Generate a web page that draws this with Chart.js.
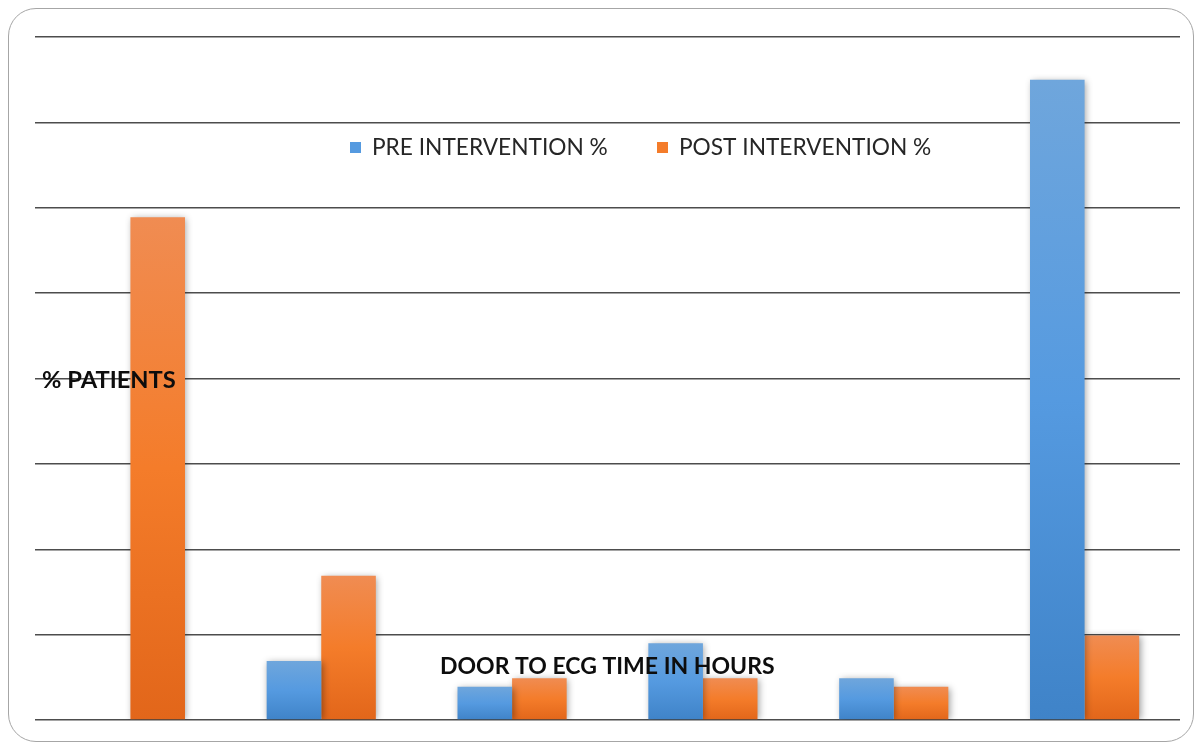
<!DOCTYPE html>
<html>
<head>
<meta charset="utf-8">
<script src="https://cdn.jsdelivr.net/npm/chart.js@4.4.1/dist/chart.umd.min.js"></script>
<style>
  html, body { margin: 0; padding: 0; background: #ffffff; }
  #wrap { position: relative; width: 1202px; height: 746px; }
  #frame {
    position: absolute; left: 8px; top: 8px; width: 1186px; height: 734px;
    border: 1.5px solid #a6a6a6; border-radius: 28px; box-sizing: border-box;
  }
  canvas { position: absolute; left: 0; top: 0; }
</style>
</head>
<body>
<div id="wrap">
  <div id="frame"></div>
  <canvas id="chart" width="1202" height="746"></canvas>
</div>
<script>
// Door-to-ECG time bands (not labelled on the axis)
const categories = ['1', '2', '3', '4', '5', '6'];
const seriesNames = ['PRE INTERVENTION %', 'POST INTERVENTION %'];
const preValues = [0, 6.9, 3.9, 9.0, 4.9, 75.0];
const postValues = [58.9, 16.9, 4.9, 4.9, 3.9, 9.9];
const yTitle = '% PATIENTS';
const xTitle = 'DOOR TO ECG TIME IN HOURS';

const FONT = 'Lato, "Open Sans", "DejaVu Sans", sans-serif';

// Vertical gradient per bar: lighter at the top, deeper at the base
function barGradient(stops) {
  return function (ctx) {
    const chart = ctx.chart;
    const y = chart.scales && chart.scales.y;
    if (!y || ctx.type !== 'data') return stops[1];
    const v = ctx.raw || 0;
    const top = y.getPixelForValue(v);
    const bottom = y.getPixelForValue(0);
    if (!isFinite(top) || bottom - top < 1) return stops[1];
    const g = chart.ctx.createLinearGradient(0, top, 0, bottom);
    g.addColorStop(0, stops[0]);
    g.addColorStop(0.5, stops[1]);
    g.addColorStop(1, stops[2]);
    return g;
  };
}
const blueStops = ['#6fa6dc', '#559ae0', '#3f83c8'];
const orangeStops = ['#f08c52', '#f47c2a', '#e2661a'];

// Soft drop shadow behind the bars
const barShadow = {
  id: 'barShadow',
  beforeDatasetsDraw(chart) {
    const c = chart.ctx;
    c.save();
    c.shadowColor = 'rgba(0,0,0,0.38)';
    c.shadowBlur = 7;
    c.shadowOffsetX = 1.5;
    c.shadowOffsetY = 1;
  },
  afterDatasetsDraw(chart) {
    chart.ctx.restore();
  }
};

// Legend inside the plot area plus the two axis captions drawn over the bars
const captions = {
  id: 'captions',
  afterDatasetsDraw(chart) {
    const c = chart.ctx;
    const area = chart.chartArea;
    c.save();
    c.textBaseline = 'middle';
    // legend
    const legendY = area.top + 110;
    const entries = [
      { x: 350, color: blueStops[1], text: seriesNames[0] },
      { x: 657, color: orangeStops[1], text: seriesNames[1] }
    ];
    c.font = '22.7px ' + FONT;
    entries.forEach(e => {
      c.fillStyle = e.color;
      c.fillRect(e.x, legendY - 5, 11, 11);
      c.fillStyle = '#262626';
      c.fillText(e.text, e.x + 22, legendY + 1);
    });
    // axis captions
    c.fillStyle = '#0d0d0d';
    c.font = 'bold 23.7px ' + FONT;
    c.fillText(yTitle, 42, 380);
    c.font = 'bold 23px ' + FONT;
    c.fillText(xTitle, 440, 667);
    c.restore();
  }
};

new Chart(document.getElementById('chart'), {
  type: 'bar',
  data: {
    labels: categories,
    datasets: [
      { label: seriesNames[0], data: preValues, backgroundColor: barGradient(blueStops) },
      { label: seriesNames[1], data: postValues, backgroundColor: barGradient(orangeStops) }
    ]
  },
  options: {
    responsive: false,
    animation: false,
    layout: { padding: { left: 35, right: 22, top: 37, bottom: 18 } },
    datasets: { bar: { categoryPercentage: 0.572, barPercentage: 1.0, borderWidth: 0 } },
    scales: {
      x: {
        ticks: { display: false },
        grid: { display: false },
        border: { display: false }
      },
      y: {
        min: 0, max: 80,
        ticks: { display: false, stepSize: 10 },
        grid: { color: '#4d4d4d', lineWidth: 1.5, drawTicks: false },
        border: { display: false }
      }
    },
    plugins: {
      legend: { display: false },
      tooltip: { enabled: false }
    }
  },
  plugins: [barShadow, captions]
});
</script>
</body>
</html>
